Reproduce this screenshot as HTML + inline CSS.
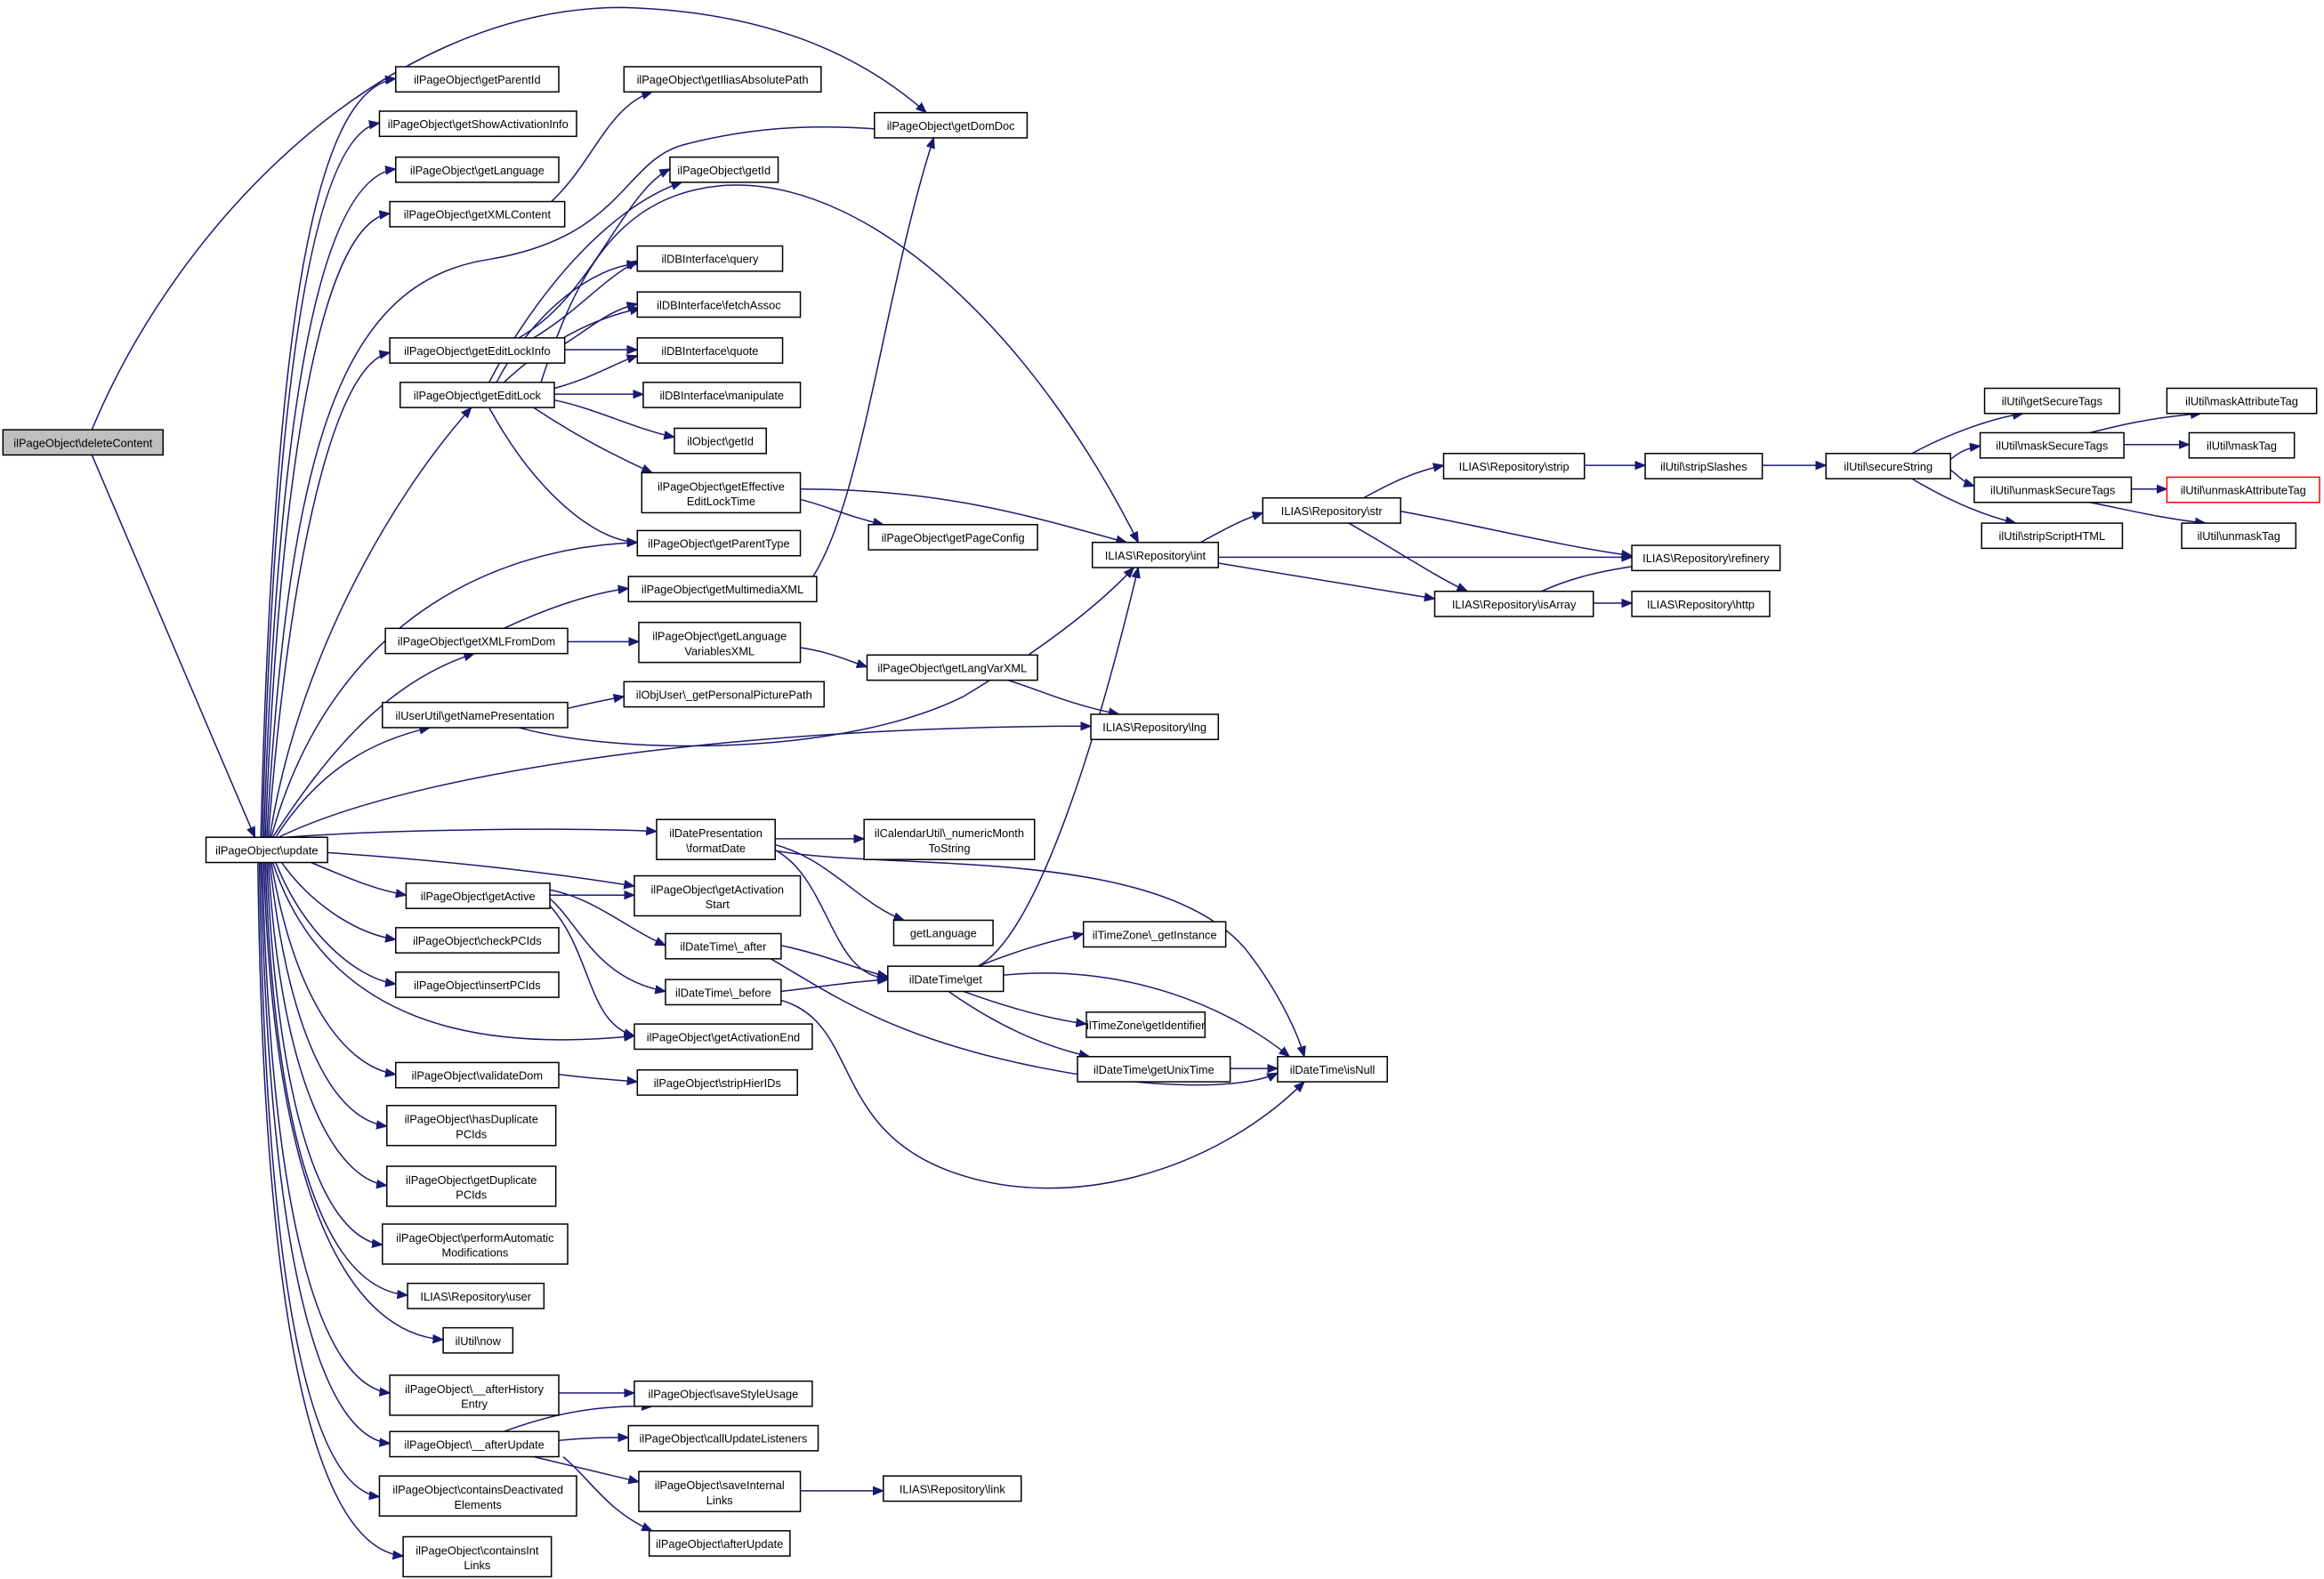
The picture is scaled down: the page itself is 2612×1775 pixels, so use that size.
<!DOCTYPE html>
<html><head><meta charset="utf-8"><style>
html,body{margin:0;padding:0;background:#fff;}
svg{display:block}
text{font-family:"Liberation Sans",sans-serif;font-size:7.7px;text-anchor:middle;fill:#000}
rect{fill:#fff;stroke:#000;stroke-width:0.9}
path{fill:none;stroke:#191970;stroke-width:0.9}
</style></head><body>
<svg width="2612" height="1775" viewBox="0 0 1568 1065.5" xmlns="http://www.w3.org/2000/svg">
<defs><marker id="a" viewBox="0 0 10 10" refX="10" refY="5" markerWidth="7" markerHeight="7" markerUnits="userSpaceOnUse" orient="auto"><path d="M0,1 L10,5 L0,9 z" style="fill:#191970;stroke:#191970"/></marker></defs>
<g marker-end="url(#a)">
<path d="M62,290 C120,150 260,5 420,5 C530,8 590,45 625,76"/>
<path d="M62,307 L172,565"/>
<path d="M176,565 C185,200 215,60 267,53"/>
<path d="M177,565 C186,230 215,90 256,83"/>
<path d="M178,565 C188,260 218,120 267,114"/>
<path d="M179,565 C190,290 220,150 263,144"/>
<path d="M180,565 C195,300 230,190 330,175 C420,160 420,110 460,98 C520,82 570,85 605,88"/>
<path d="M181,565 C195,380 225,245 263,238"/>
<path d="M182,565 C200,450 260,340 318,275"/>
<path d="M183,565 C220,430 320,370 430,366"/>
<path d="M184,565 C220,510 260,460 320,441"/>
<path d="M186,565 C215,520 250,500 290,491"/>
<path d="M188,565 C280,520 500,490 736,490"/>
<path d="M192,565 C260,560 380,558 443,561"/>
<path d="M200,574 C300,580 380,590 428,598"/>
<path d="M200,578 C230,590 250,600 274,604"/>
<path d="M190,582 C210,610 240,630 267,634"/>
<path d="M186,582 C205,630 240,660 267,664"/>
<path d="M184,582 C220,690 320,710 428,699"/>
<path d="M183,582 C200,680 235,720 267,725"/>
<path d="M182,582 C195,700 225,755 261,760"/>
<path d="M181,582 C190,730 225,795 261,800"/>
<path d="M180,582 C188,760 220,835 258,840"/>
<path d="M179,582 C186,790 225,870 275,874"/>
<path d="M178,582 C185,820 240,900 299,904"/>
<path d="M177,582 C183,840 220,935 263,940"/>
<path d="M176,582 C182,870 220,970 263,974"/>
<path d="M175,582 C180,900 215,1005 256,1010"/>
<path d="M174,582 C178,930 220,1045 272,1050"/>
<path d="M372,136 C400,110 410,72 440,62"/>
<path d="M350,228 C400,200 420,130 452,114"/>
<path d="M360,228 C390,210 405,190 430,176"/>
<path d="M381,232 C400,220 410,210 430,205"/>
<path d="M381,236 C400,236 410,236 430,236"/>
<path d="M330,258 C360,200 410,140 460,123"/>
<path d="M335,258 C360,210 400,180 430,178"/>
<path d="M340,258 C370,230 400,215 432,208"/>
<path d="M374,262 C400,255 415,245 430,240"/>
<path d="M374,266 L434,266"/>
<path d="M374,270 C400,275 430,290 455,295"/>
<path d="M360,275 C390,295 420,310 440,319"/>
<path d="M330,275 C360,330 400,365 430,366"/>
<path d="M365,258 C390,180 420,130 490,125 C590,120 700,230 768,366"/>
<path d="M540,330 C640,330 700,350 760,366"/>
<path d="M540,337 C560,342 570,348 596,354"/>
<path d="M340,424 C370,410 400,400 424,397"/>
<path d="M383,433 L431,433"/>
<path d="M540,400 C580,360 595,200 630,93"/>
<path d="M540,437 C560,440 570,445 585,450"/>
<path d="M680,459 C700,465 720,475 755,482"/>
<path d="M383,478 C400,474 410,472 421,470"/>
<path d="M350,491 C420,510 570,510 650,470 C700,440 740,410 765,383"/>
<path d="M523,566 L583,566"/>
<path d="M523,570 C560,580 580,610 610,621"/>
<path d="M520,572 C560,590 560,660 599,660"/>
<path d="M523,574 C600,588 780,570 840,640 C860,665 875,695 880,713"/>
<path d="M371,604 L428,604"/>
<path d="M368,600 C400,605 420,625 449,638"/>
<path d="M368,604 C390,620 400,660 449,669"/>
<path d="M368,608 C400,640 395,690 428,699"/>
<path d="M527,638 C560,645 580,655 599,659"/>
<path d="M520,647 C560,670 600,700 700,720 C780,736 840,735 862,724"/>
<path d="M527,669 C560,665 580,662 599,661"/>
<path d="M527,675 C580,690 560,760 640,790 C720,820 820,790 880,730"/>
<path d="M660,652 C700,630 740,500 768,383"/>
<path d="M660,652 C690,640 710,635 731,630"/>
<path d="M650,669 C680,680 710,688 733,691"/>
<path d="M640,669 C670,690 700,705 735,713"/>
<path d="M677,658 C760,650 830,680 870,713"/>
<path d="M830,721 L862,721"/>
<path d="M377,725 C400,728 420,729 430,730"/>
<path d="M377,940 L428,940"/>
<path d="M340,966 C370,955 400,948 440,949"/>
<path d="M377,972 C400,970 410,970 424,970"/>
<path d="M360,983 C390,990 410,995 431,1000"/>
<path d="M380,983 C400,1000 410,1020 440,1033"/>
<path d="M540,1006 L596,1006"/>
<path d="M810,366 C830,355 840,350 852,346"/>
<path d="M822,376 L1101,376"/>
<path d="M822,380 C880,390 930,398 968,404"/>
<path d="M920,336 C940,325 955,318 974,314"/>
<path d="M945,345 C1000,355 1050,368 1101,375"/>
<path d="M910,353 C940,370 970,390 990,399"/>
<path d="M1040,399 C1060,390 1080,385 1110,381"/>
<path d="M1075,407 L1101,407"/>
<path d="M1069,314 L1110,314"/>
<path d="M1189,314 L1232,314"/>
<path d="M1290,306 C1310,295 1340,283 1365,279"/>
<path d="M1316,310 C1322,305 1328,302 1336,301"/>
<path d="M1316,317 C1322,322 1326,326 1332,328"/>
<path d="M1290,323 C1310,335 1335,347 1360,353"/>
<path d="M1410,292 C1430,287 1450,282 1485,279"/>
<path d="M1433,300 L1477,300"/>
<path d="M1438,330 L1462,330"/>
<path d="M1410,339 C1440,345 1460,350 1488,353"/>
</g>
<rect x="2" y="290" width="108" height="17" style="fill:#bfbfbf"/><text x="56" y="301.5">ilPageObject\deleteContent</text>
<rect x="139" y="565" width="82" height="17"/><text x="180" y="576.5">ilPageObject\update</text>
<rect x="267" y="45" width="110" height="17"/><text x="322" y="56.5">ilPageObject\getParentId</text>
<rect x="256" y="75" width="133" height="17"/><text x="322.5" y="86.5">ilPageObject\getShowActivationInfo</text>
<rect x="267" y="106" width="110" height="17"/><text x="322" y="117.5">ilPageObject\getLanguage</text>
<rect x="263" y="136" width="118" height="17"/><text x="322" y="147.5">ilPageObject\getXMLContent</text>
<rect x="263" y="228" width="118" height="17"/><text x="322" y="239.5">ilPageObject\getEditLockInfo</text>
<rect x="270" y="258" width="104" height="17"/><text x="322" y="269.5">ilPageObject\getEditLock</text>
<rect x="260" y="424" width="123" height="17"/><text x="321.5" y="435.5">ilPageObject\getXMLFromDom</text>
<rect x="258" y="474" width="125" height="17"/><text x="320.5" y="485.5">ilUserUtil\getNamePresentation</text>
<rect x="274" y="596" width="97" height="17"/><text x="322.5" y="607.5">ilPageObject\getActive</text>
<rect x="267" y="626" width="110" height="17"/><text x="322" y="637.5">ilPageObject\checkPCIds</text>
<rect x="267" y="656" width="110" height="17"/><text x="322" y="667.5">ilPageObject\insertPCIds</text>
<rect x="267" y="717" width="110" height="17"/><text x="322" y="728.5">ilPageObject\validateDom</text>
<rect x="261" y="746" width="114" height="27"/><text x="318" y="758">ilPageObject\hasDuplicate</text><text x="318" y="768">PCIds</text>
<rect x="261" y="787" width="114" height="27"/><text x="318" y="799">ilPageObject\getDuplicate</text><text x="318" y="809">PCIds</text>
<rect x="258" y="826" width="125" height="27"/><text x="320.5" y="838">ilPageObject\performAutomatic</text><text x="320.5" y="848">Modifications</text>
<rect x="275" y="866" width="92" height="17"/><text x="321" y="877.5">ILIAS\Repository\user</text>
<rect x="299" y="896" width="47" height="17"/><text x="322.5" y="907.5">ilUtil\now</text>
<rect x="263" y="928" width="114" height="27"/><text x="320" y="940">ilPageObject\__afterHistory</text><text x="320" y="950">Entry</text>
<rect x="263" y="966" width="114" height="17"/><text x="320" y="977.5">ilPageObject\__afterUpdate</text>
<rect x="256" y="996" width="133" height="27"/><text x="322.5" y="1008">ilPageObject\containsDeactivated</text><text x="322.5" y="1018">Elements</text>
<rect x="272" y="1037" width="100" height="27"/><text x="322" y="1049">ilPageObject\containsInt</text><text x="322" y="1059">Links</text>
<rect x="421" y="45" width="133" height="17"/><text x="487.5" y="56.5">ilPageObject\getIliasAbsolutePath</text>
<rect x="452" y="106" width="73" height="17"/><text x="488.5" y="117.5">ilPageObject\getId</text>
<rect x="430" y="166" width="98" height="17"/><text x="479" y="177.5">ilDBInterface\query</text>
<rect x="430" y="197" width="110" height="17"/><text x="485" y="208.5">ilDBInterface\fetchAssoc</text>
<rect x="430" y="228" width="98" height="17"/><text x="479" y="239.5">ilDBInterface\quote</text>
<rect x="434" y="258" width="106" height="17"/><text x="487" y="269.5">ilDBInterface\manipulate</text>
<rect x="455" y="289" width="62" height="17"/><text x="486" y="300.5">ilObject\getId</text>
<rect x="433" y="319" width="107" height="27"/><text x="486.5" y="331">ilPageObject\getEffective</text><text x="486.5" y="341">EditLockTime</text>
<rect x="430" y="358" width="110" height="17"/><text x="485" y="369.5">ilPageObject\getParentType</text>
<rect x="424" y="389" width="127" height="17"/><text x="487.5" y="400.5">ilPageObject\getMultimediaXML</text>
<rect x="431" y="420" width="109" height="27"/><text x="485.5" y="432">ilPageObject\getLanguage</text><text x="485.5" y="442">VariablesXML</text>
<rect x="421" y="460" width="135" height="17"/><text x="488.5" y="471.5">ilObjUser\_getPersonalPicturePath</text>
<rect x="443" y="553" width="80" height="27"/><text x="483" y="565">ilDatePresentation</text><text x="483" y="575">\formatDate</text>
<rect x="428" y="591" width="112" height="27"/><text x="484" y="603">ilPageObject\getActivation</text><text x="484" y="613">Start</text>
<rect x="449" y="630" width="78" height="17"/><text x="488" y="641.5">ilDateTime\_after</text>
<rect x="449" y="661" width="78" height="17"/><text x="488" y="672.5">ilDateTime\_before</text>
<rect x="428" y="691" width="120" height="17"/><text x="488" y="702.5">ilPageObject\getActivationEnd</text>
<rect x="430" y="722" width="108" height="17"/><text x="484" y="733.5">ilPageObject\stripHierIDs</text>
<rect x="428" y="932" width="120" height="17"/><text x="488" y="943.5">ilPageObject\saveStyleUsage</text>
<rect x="424" y="962" width="128" height="17"/><text x="488" y="973.5">ilPageObject\callUpdateListeners</text>
<rect x="431" y="993" width="109" height="27"/><text x="485.5" y="1005">ilPageObject\saveInternal</text><text x="485.5" y="1015">Links</text>
<rect x="438" y="1033" width="95" height="17"/><text x="485.5" y="1044.5">ilPageObject\afterUpdate</text>
<rect x="590" y="76" width="103" height="17"/><text x="641.5" y="87.5">ilPageObject\getDomDoc</text>
<rect x="586" y="354" width="114" height="17"/><text x="643" y="365.5">ilPageObject\getPageConfig</text>
<rect x="585" y="442" width="115" height="17"/><text x="642.5" y="453.5">ilPageObject\getLangVarXML</text>
<rect x="583" y="553" width="115" height="27"/><text x="640.5" y="565">ilCalendarUtil\_numericMonth</text><text x="640.5" y="575">ToString</text>
<rect x="603" y="621" width="67" height="17"/><text x="636.5" y="632.5">getLanguage</text>
<rect x="599" y="652" width="78" height="17"/><text x="638" y="663.5">ilDateTime\get</text>
<rect x="596" y="996" width="93" height="17"/><text x="642.5" y="1007.5">ILIAS\Repository\link</text>
<rect x="737" y="366" width="85" height="17"/><text x="779.5" y="377.5">ILIAS\Repository\int</text>
<rect x="736" y="482" width="86" height="17"/><text x="779" y="493.5">ILIAS\Repository\lng</text>
<rect x="731" y="622" width="96" height="17"/><text x="779" y="633.5">ilTimeZone\_getInstance</text>
<rect x="733" y="683" width="80" height="17"/><text x="773" y="694.5">ilTimeZone\getIdentifier</text>
<rect x="727" y="713" width="103" height="17"/><text x="778.5" y="724.5">ilDateTime\getUnixTime</text>
<rect x="852" y="336" width="93" height="17"/><text x="898.5" y="347.5">ILIAS\Repository\str</text>
<rect x="862" y="713" width="74" height="17"/><text x="899" y="724.5">ilDateTime\isNull</text>
<rect x="974" y="306" width="95" height="17"/><text x="1021.5" y="317.5">ILIAS\Repository\strip</text>
<rect x="968" y="399" width="107" height="17"/><text x="1021.5" y="410.5">ILIAS\Repository\isArray</text>
<rect x="1101" y="368" width="100" height="17"/><text x="1151" y="379.5">ILIAS\Repository\refinery</text>
<rect x="1101" y="399" width="93" height="17"/><text x="1147.5" y="410.5">ILIAS\Repository\http</text>
<rect x="1110" y="306" width="79" height="17"/><text x="1149.5" y="317.5">ilUtil\stripSlashes</text>
<rect x="1232" y="306" width="84" height="17"/><text x="1274" y="317.5">ilUtil\secureString</text>
<rect x="1339" y="262" width="91" height="17"/><text x="1384.5" y="273.5">ilUtil\getSecureTags</text>
<rect x="1336" y="292" width="97" height="17"/><text x="1384.5" y="303.5">ilUtil\maskSecureTags</text>
<rect x="1332" y="322" width="106" height="17"/><text x="1385" y="333.5">ilUtil\unmaskSecureTags</text>
<rect x="1337" y="353" width="95" height="17"/><text x="1384.5" y="364.5">ilUtil\stripScriptHTML</text>
<rect x="1462" y="262" width="101" height="17"/><text x="1512.5" y="273.5">ilUtil\maskAttributeTag</text>
<rect x="1477" y="292" width="71" height="17"/><text x="1512.5" y="303.5">ilUtil\maskTag</text>
<rect x="1462" y="322" width="103" height="17" style="stroke:#f00"/><text x="1513.5" y="333.5">ilUtil\unmaskAttributeTag</text>
<rect x="1472" y="353" width="77" height="17"/><text x="1510.5" y="364.5">ilUtil\unmaskTag</text>
</svg>
</body></html>
